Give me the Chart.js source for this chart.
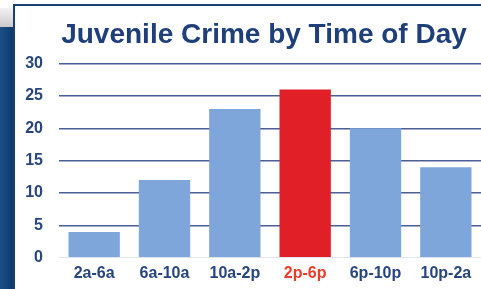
<!DOCTYPE html>
<html>
<head>
<meta charset="utf-8">
<script src="https://cdn.jsdelivr.net/npm/chart.js@4"></script>
<style>
  html, body { margin: 0; padding: 0; background: #fff; }
  #wrap { position: relative; width: 481px; height: 289px; overflow: hidden; background: #fff; }
  #shade { position: absolute; left: 0; top: 8px; width: 13px; height: 20px; background: linear-gradient(#f2f2f2, #c9c9c9); }
  #sidebar { position: absolute; left: 0; top: 27px; width: 13px; height: 262px; background: linear-gradient(90deg, #1d4f86, #0c3b6e); }
  #panel { position: absolute; left: 13px; top: 4px; width: 480px; height: 300px; border-left: 2px solid #1c3f75; border-top: 2px solid #1c3f75; box-sizing: border-box; background: #fff; }
  #chart { position: absolute; left: 0; top: 0; }
</style>
</head>
<body>
<div id="wrap">
  <div id="shade"></div>
  <div id="sidebar"></div>
  <div id="panel"></div>
  <canvas id="chart" width="481" height="289"></canvas>
</div>
<script>
const categories = ["2a-6a", "6a-10a", "10a-2p", "2p-6p", "6p-10p", "10p-2a"];
const crimeValues = [4, 12, 23, 26, 20, 14];
const highlightIndex = 3;

const blue = "#7ea6da";
const red = "#e01f26";
const textBlue = "#27457f";
const fontFamily = "Liberation Sans, Arial, sans-serif";

// nudge the title a bit left of the plot centre, like the original slide
const titleShift = {
  id: "titleShift",
  afterLayout(chart) {
    chart.titleBlock.left -= 12;
  }
};

const ctx = document.getElementById("chart").getContext("2d");
const chart = new Chart(ctx, {
  type: "bar",
  data: {
    labels: categories,
    datasets: [{
      data: crimeValues,
      backgroundColor: crimeValues.map((v, i) => i === highlightIndex ? red : blue),
      borderWidth: 0,
      barPercentage: 0.73,
      categoryPercentage: 1
    }]
  },
  options: {
    responsive: false,
    animation: false,
    layout: { padding: { top: 18, right: 0, bottom: 0, left: 0 } },
    plugins: {
      legend: { display: false },
      tooltip: { enabled: false },
      title: {
        display: true,
        fullSize: false,
        text: "Juvenile Crime by Time of Day",
        color: "#1f3f7a",
        font: { family: fontFamily, size: 28, weight: "bold" },
        padding: { top: 0, bottom: 12 }
      }
    },
    scales: {
      x: {
        grid: { display: false, drawTicks: false },
        border: { display: true, color: "#dfe3ec", width: 1 },
        ticks: {
          padding: 6,
          color: c => c.index === highlightIndex ? "#ee3b2b" : textBlue,
          font: { family: fontFamily, size: 16, weight: "bold" }
        }
      },
      y: {
        min: 0,
        max: 30,
        afterFit: scale => { scale.width = 59; },
        grid: {
          drawTicks: false,
          lineWidth: 1.5,
          color: c => c.tick.value === 0 ? "rgba(0,0,0,0)" : "#4b5e98"
        },
        border: { display: false },
        ticks: {
          stepSize: 5,
          padding: 16,
          color: textBlue,
          font: { family: fontFamily, size: 16, weight: "bold" }
        }
      }
    }
  },
  plugins: [titleShift]
});
</script>
</body>
</html>
